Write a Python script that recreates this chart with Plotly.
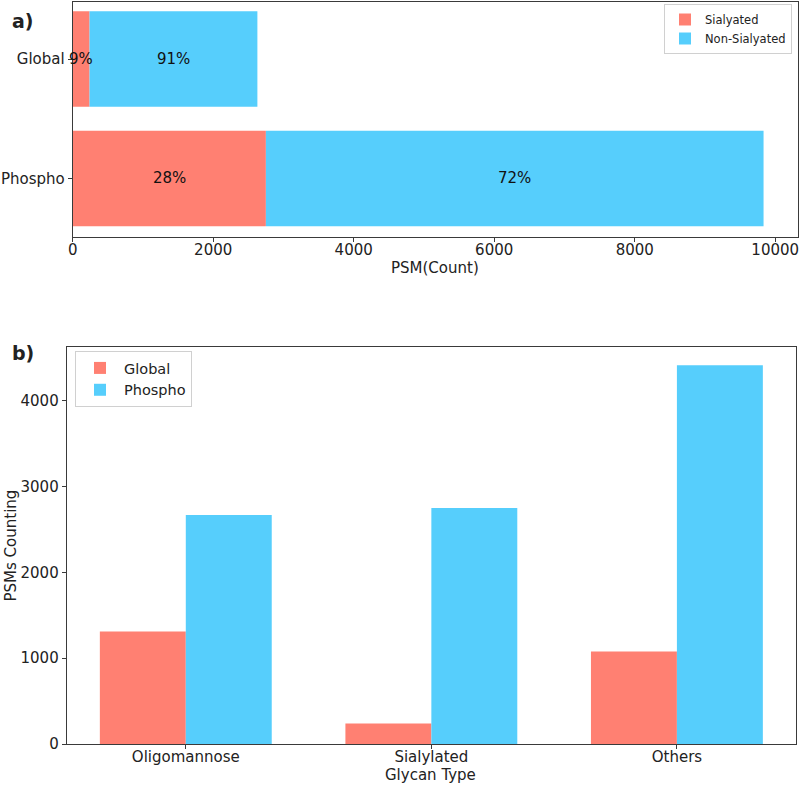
import plotly.graph_objects as go

# ---- data ----
a_categories = ["Phospho", "Global"]
a_sialyated = [2750, 240]
a_non_sialyated = [7084, 2389]

b_categories = ["Oligomannose", "Sialylated", "Others"]
b_global = [1311, 240, 1078]
b_phospho = [2669, 2750, 4415]

RED = "#FF8072"
BLUE = "#56CEFC"
FONT = "DejaVu Sans"
LINE = "#3a3a3a"

W, H = 800, 785


def px(x):
    return x / W


def py(y):
    return 1 - y / H


fig = go.Figure()

# Panel a (stacked horizontally via base)
fig.add_trace(go.Bar(y=a_categories, x=a_sialyated, orientation="h", name="Sialyated",
                     marker=dict(color=RED, line=dict(width=0)), width=0.8,
                     xaxis="x", yaxis="y", legend="legend"))
fig.add_trace(go.Bar(y=a_categories, x=a_non_sialyated, base=a_sialyated, orientation="h",
                     name="Non-Sialyated",
                     marker=dict(color=BLUE, line=dict(width=0)), width=0.8,
                     xaxis="x", yaxis="y", legend="legend"))

# Panel b (side by side)
fig.add_trace(go.Bar(x=b_categories, y=b_global, name="Global",
                     marker=dict(color=RED, line=dict(width=0)), width=0.35, offset=-0.35,
                     xaxis="x2", yaxis="y2", legend="legend2"))
fig.add_trace(go.Bar(x=b_categories, y=b_phospho, name="Phospho",
                     marker=dict(color=BLUE, line=dict(width=0)), width=0.35, offset=0.0,
                     xaxis="x2", yaxis="y2", legend="legend2"))

annotations = []
for cat, s, n in zip(a_categories, a_sialyated, a_non_sialyated):
    tot = s + n
    annotations.append(dict(x=s / 2, y=cat, xref="x", yref="y", showarrow=False,
                            text=f"{round(100 * s / tot)}%", font=dict(size=15, color="#111", family=FONT)))
    annotations.append(dict(x=s + n / 2, y=cat, xref="x", yref="y", showarrow=False,
                            text=f"{round(100 * n / tot)}%", font=dict(size=15, color="#111", family=FONT)))

annotations.append(dict(x=px(23), y=py(21), xref="paper", yref="paper", showarrow=False,
                        xanchor="center", yanchor="middle",
                        text="<b>a)</b>", font=dict(size=19, color="#222", family=FONT)))
annotations.append(dict(x=px(23), y=py(353), xref="paper", yref="paper", showarrow=False,
                        xanchor="center", yanchor="middle",
                        text="<b>b)</b>", font=dict(size=19, color="#222", family=FONT)))
annotations.append(dict(x=px(10), y=py(545.5), xref="paper", yref="paper", showarrow=False,
                        xanchor="center", yanchor="middle",
                        text="PSMs Counting", textangle=-90,
                        font=dict(size=15, color="#222", family=FONT)))
annotations.append(dict(x=px(435), y=py(268), xref="paper", yref="paper", showarrow=False,
                        xanchor="center", yanchor="middle",
                        text="PSM(Count)", font=dict(size=15, color="#222", family=FONT)))
annotations.append(dict(x=px(431), y=py(775), xref="paper", yref="paper", showarrow=False,
                        xanchor="center", yanchor="middle",
                        text="Glycan Type", font=dict(size=15, color="#222", family=FONT)))

axis_common = dict(showline=True, mirror=True, linecolor=LINE, linewidth=1, automargin=False,
                   ticks="outside", ticklen=4, tickcolor=LINE, showgrid=False, zeroline=False,
                   tickfont=dict(size=15, color="#222", family=FONT))

fig.update_layout(
    width=W, height=H,
    margin=dict(l=0, r=0, t=0, b=0),
    paper_bgcolor="white", plot_bgcolor="white",
    font=dict(family=FONT, size=15, color="#222"),
    barmode="overlay",
    annotations=annotations,
    xaxis=dict(domain=[px(72.7), px(797.7)], anchor="y", range=[0, 10320],
               tickvals=[0, 2000, 4000, 6000, 8000, 10000], tickformat="d",
               ticklabelstandoff=-5, **axis_common),
    yaxis=dict(domain=[py(237), py(1.7)], anchor="x", range=[-0.49, 1.48],
               type="category", categoryorder="array", categoryarray=a_categories, **axis_common),
    xaxis2=dict(domain=[px(66.7), px(796)], anchor="y2", range=[-0.485, 2.485],
                type="category", categoryorder="array", categoryarray=b_categories,
                ticklabelstandoff=-5, **axis_common),
    yaxis2=dict(domain=[py(744), py(346.7)], anchor="x2", range=[0, 4630],
                tickvals=[0, 1000, 2000, 3000, 4000], tickformat="d", **axis_common),
    legend=dict(x=px(792), y=py(4), xanchor="right", yanchor="top", traceorder="normal",
                bgcolor="rgba(255,255,255,0.9)", bordercolor="#d0d0d0", borderwidth=1,
                font=dict(size=11.5, family=FONT), tracegroupgap=0),
    legend2=dict(x=px(75), y=py(351), xanchor="left", yanchor="top", traceorder="normal",
                 bgcolor="rgba(255,255,255,0.9)", bordercolor="#d0d0d0", borderwidth=1,
                 itemwidth=38,
                 font=dict(size=14.5, family=FONT), tracegroupgap=0),
)

# remove the default page margin so the figure sits at the window's top-left corner
fig.write_html("out.html", config={"displayModeBar": False},
               post_script="document.body.style.margin='0';")
